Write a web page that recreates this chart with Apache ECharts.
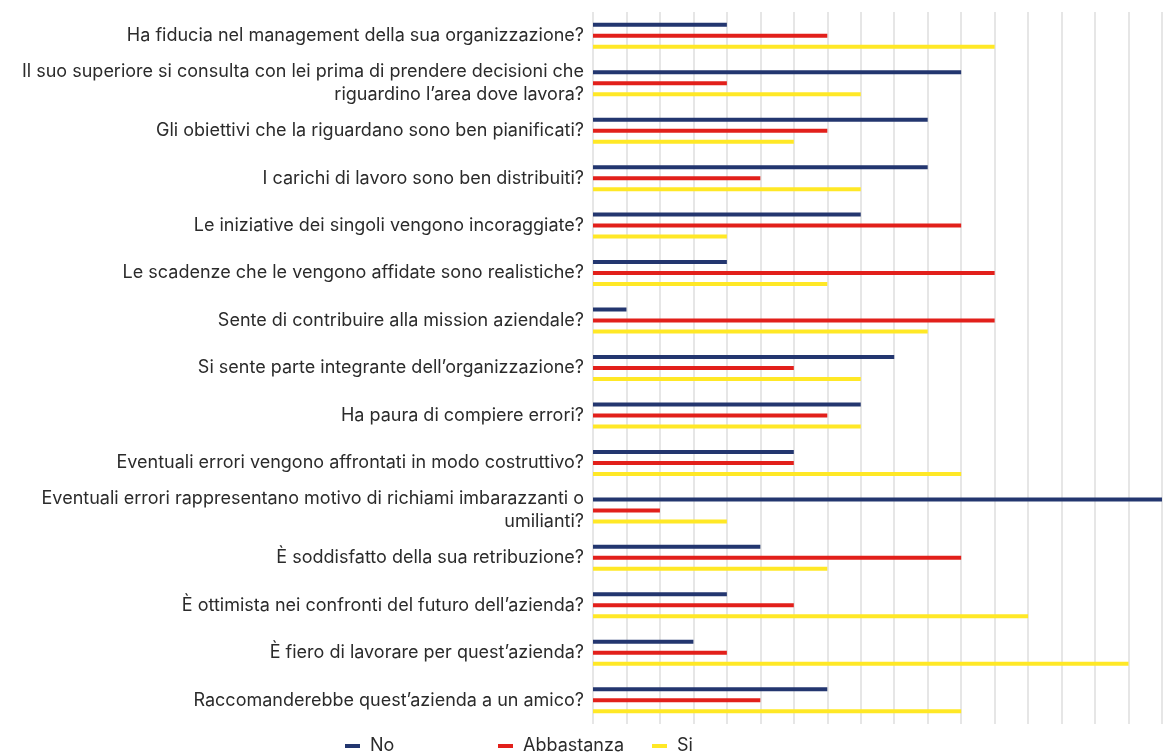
<!DOCTYPE html>
<html>
<head>
<meta charset="utf-8">
<script src="https://cdn.jsdelivr.net/npm/echarts@6/dist/echarts.min.js"></script>
<style>
    html, body { margin: 0; padding: 0; background: #fff; }
    #chart { width: 1167px; height: 752px; }
</style>
</head>
<body>
<div id="chart"></div>
<script>
// domande del questionario (dall'alto verso il basso)
const categories = [
    'Ha fiducia nel management della sua organizzazione?',
    'Il suo superiore si consulta con lei prima di prendere decisioni che\nriguardino l\u2019area dove lavora?',
    'Gli obiettivi che la riguardano sono ben pianificati?',
    'I carichi di lavoro sono ben distribuiti?',
    'Le iniziative dei singoli vengono incoraggiate?',
    'Le scadenze che le vengono affidate sono realistiche?',
    'Sente di contribuire alla mission aziendale?',
    'Si sente parte integrante dell\u2019organizzazione?',
    'Ha paura di compiere errori?',
    'Eventuali errori vengono affrontati in modo costruttivo?',
    'Eventuali errori rappresentano motivo di richiami imbarazzanti o\numilianti?',
    '\u00c8 soddisfatto della sua retribuzione?',
    '\u00c8 ottimista nei confronti del futuro dell\u2019azienda?',
    '\u00c8 fiero di lavorare per quest\u2019azienda?',
    'Raccomanderebbe quest\u2019azienda a un amico?'
]
const seriesNames = ['No', 'Abbastanza', 'Si']
const noValues = [4, 11, 10, 10, 8, 4, 1, 9, 8, 6, 17, 5, 4, 3, 7]
const abbastanzaValues = [7, 4, 7, 5, 11, 12, 12, 6, 7, 6, 2, 11, 6, 4, 5]
const siValues = [12, 8, 6, 8, 4, 7, 10, 8, 8, 11, 4, 7, 13, 16, 11]
const axisMax = 17

const colors = ['#23366f', '#e2201b', '#ffe826']
const fontFamily = 'Inter, "Noto Sans", sans-serif'

const chart = echarts.init(document.getElementById('chart'))

// una legenda per voce, così da fissare la posizione di ciascuna
const legendLeft = [345, 498, 652]
const legends = seriesNames.map((name, i) => ({
    data: [name],
    left: legendLeft[i],
    top: 737,
    padding: 0,
    icon: 'rect',
    itemWidth: 15,
    itemHeight: 4,
    textStyle: {
        color: '#2b2b2b',
        fontSize: 18,
        fontFamily: fontFamily,
        padding: [0, 0, 0, 5],
    },
}))

const valueLists = [noValues, abbastanzaValues, siValues]
const series = seriesNames.map((name, i) => ({
    name: name,
    type: 'bar',
    data: valueLists[i],
    barWidth: 4,
    barGap: '175%',
    itemStyle: { color: colors[i] },
}))

const option = {
    animation: false,
    color: colors,
    legend: legends,
    grid: {
        left: 593,
        right: 5,
        top: 12,
        bottom: 28,
        containLabel: false,
    },
    xAxis: {
        type: 'value',
        min: 0,
        max: axisMax,
        interval: 1,
        axisLabel: { show: false },
        axisLine: { show: false },
        axisTick: { show: false },
        splitLine: {
            show: true,
            lineStyle: { color: '#e6e6e6', width: 2 },
        },
    },
    yAxis: {
        type: 'category',
        data: categories,
        inverse: true,
        axisLine: { show: false },
        axisTick: { show: false },
        axisLabel: {
            margin: 9,
            color: '#2b2b2b',
            fontSize: 18,
            fontFamily: fontFamily,
            lineHeight: 23,
            align: 'right',
        },
    },
    series: series,
}
chart.setOption(option)
</script>
</body>
</html>
